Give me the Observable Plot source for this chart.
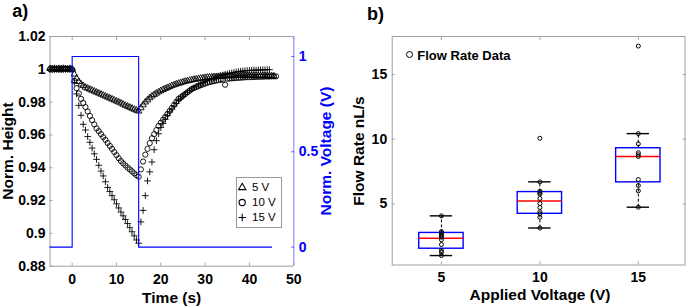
<!DOCTYPE html>
<html><head><meta charset="utf-8">
<script src="https://cdn.jsdelivr.net/npm/d3@7"></script>
<script src="https://cdn.jsdelivr.net/npm/@observablehq/plot@0.6"></script>
<style>
body{margin:0;background:#fff;}
#root{position:relative;width:688px;height:308px;overflow:hidden;background:#fff;font-family:'Liberation Sans',Arial,Helvetica,sans-serif;}
.layer{position:absolute;top:0;}
.layer svg{display:block;max-width:none;}
.lbl{position:absolute;font-weight:bold;white-space:nowrap;line-height:1;}
.rot{transform:translate(-50%,-50%) rotate(-90deg);}
.ctr{transform:translateX(-50%);}
#legA{position:absolute;left:236px;top:177.3px;width:45.7px;height:50.4px;border:1px solid #999;box-sizing:border-box;background:#fff;}
#legA svg{display:block;max-width:none;}
#legB{position:absolute;left:405.5px;top:49px;height:13px;white-space:nowrap;}
#legB .c{position:absolute;left:0;top:2.4px;width:7px;height:7px;border:1.8px solid #000;border-radius:50%;box-sizing:border-box;}
#legB .t{position:absolute;left:11.8px;top:0;font-weight:bold;font-size:13px;line-height:1;}
</style></head><body><div id="root"></div>
<script>
// ---------- Panel a data ----------
const times = [-5,-4.5,-4,-3.5,-3,-2.5,-2,-1.5,-1,-0.5,
  0,0.5,1,1.5,2,2.5,3,3.5,4,4.5,
  5,5.5,6,6.5,7,7.5,8,8.5,9,9.5,
  10,10.5,11,11.5,12,12.5,13,13.5,14,14.5,
  15,15.5,16,16.5,17,17.5,18,18.5,19,19.5,
  20,20.5,21,21.5,22,22.5,23,23.5,24,24.5,
  25,25.5,26,26.5,27,27.5,28,28.5,29,29.5,
  30,30.5,31,31.5,32,32.5,33,33.5,34,34.5,
  35,35.5,36,36.5,37,37.5,38,38.5,39,39.5,
  40,40.5,41,41.5,42,42.5,43,43.5,44,44.5,
  45,45.5,46];
const height5V = [1.0004,1.0003,1.0005,1.0002,1.0004,1.0003,1.0005,1.0003,1.0002,1.0004,
  1.0,0.997,0.9945,0.9925,0.991,0.990,0.989,0.9884,0.9878,0.9872,
  0.9866,0.986,0.9854,0.9848,0.9842,0.9836,0.983,0.9824,0.9818,0.9812,
  0.9806,0.98,0.9794,0.9787,0.978,0.9774,0.9768,0.9762,0.9756,0.975,
  0.9745,0.9765,0.9783,0.980,0.9813,0.9826,0.9837,0.9846,0.9854,0.9862,
  0.9869,0.9876,0.9882,0.9888,0.9894,0.99,0.9905,0.991,0.9914,0.9918,
  0.9922,0.9926,0.9929,0.9932,0.9935,0.9938,0.994,0.9942,0.9945,0.9947,
  0.9949,0.9951,0.9952,0.9953,0.9954,0.9955,0.9956,0.9957,0.9958,0.9959,
  0.996,0.996,0.9961,0.9961,0.9962,0.9962,0.9962,0.9963,0.9963,0.9963,
  0.9963,0.9962,0.9962,0.9962,0.9961,0.9961,0.9961,0.996,0.996,0.996,
  0.996,0.9959,null];
const height10V = [1.0001,0.9999,1.0002,1.0,1.0001,0.9999,1.0001,1.0002,1.0,1.0001,
  1.0,0.993,0.9885,0.9853,0.982,0.9795,0.977,0.9743,0.9716,0.969,
  0.9664,0.964,0.9623,0.9605,0.9587,0.957,0.9551,0.9533,0.9515,0.9496,
  0.9477,0.9458,0.9441,0.9427,0.9414,0.9401,0.939,0.9378,0.9366,0.9355,
  0.9345,0.939,0.9438,0.948,0.9515,0.955,0.958,0.9605,0.963,0.9655,
  0.9675,0.9693,0.971,0.9728,0.9746,0.9765,0.9784,0.9802,0.982,0.983,
  0.984,0.985,0.986,0.987,0.988,0.9886,0.9892,0.9898,0.9903,0.9908,
  0.9913,0.9918,0.9922,0.9925,0.9928,0.9931,0.9934,0.9936,0.9938,0.9906,
  0.9943,0.9944,0.9945,0.9946,0.9947,0.9948,0.9949,0.995,0.9951,0.9952,
  0.9952,0.9953,0.9953,0.9954,0.9954,0.9955,0.9955,0.9956,0.9956,0.9956,
  0.9957,0.9957,0.9957];
const height15V = [0.9998,1.0,0.9999,1.0001,0.9998,1.0,0.9999,1.0,1.0001,0.9999,
  1.0,0.992,0.985,0.978,0.972,0.9665,0.963,0.959,0.9555,0.952,
  0.9485,0.9451,0.9415,0.938,0.935,0.9315,0.928,0.9255,0.923,0.9205,
  0.918,0.9155,0.913,0.9107,0.9085,0.906,0.9035,0.901,0.8985,0.896,
  0.894,0.907,0.914,0.923,0.932,0.9375,0.9435,0.951,0.9565,0.9607,
  0.9645,0.967,0.9695,0.9718,0.974,0.9758,0.9776,0.9793,0.981,0.9823,
  0.9836,0.9848,0.986,0.987,0.988,0.9888,0.9896,0.9904,0.9911,0.9918,
  0.9924,0.993,0.9936,0.9942,0.9947,0.9952,0.9957,0.9961,0.9965,0.9969,
  0.9972,0.9975,0.9978,0.9981,0.9984,0.9986,0.9988,0.999,0.9991,0.9992,
  0.9993,0.9994,0.9995,0.9995,0.9996,0.9996,0.9997,0.9997,0.9998,0.9998,
  null,null,null];
const voltageTimes = [-5, 0, 0, 15, 15, 45];
const voltageValues = [0, 0, 1, 1, 0, 0];

const timeTicks = [0, 10, 20, 30, 40, 50];
const heightTicks = [0.88, 0.9, 0.92, 0.94, 0.96, 0.98, 1, 1.02];
const heightTickLabels = ["0.88", "0.9", "0.92", "0.94", "0.96", "0.98", "1", "1.02"];
const voltTicks = [0, 0.5, 1];
const voltTickLabels = ["0", "0.5", "1"];
const legendLabels = ["5 V", "10 V", "15 V"];
const legendSymbols = ["triangle", "circle", "plus"];

// ---------- Panel b data ----------
const voltages = [5, 10, 15];
const voltageLabels = ["5", "10", "15"];
const q1 = [1.53, 4.23, 6.66];
const medians = [2.34, 5.22, 8.66];
const q3 = [2.75, 5.91, 9.3];
const whiskerLow = [1.0, 3.13, 4.74];
const whiskerHigh = [4.07, 6.7, 10.43];
const flow5V = [4.07, 2.86, 2.75, 2.62, 2.5, 2.42, 2.22, 1.85, 1.39, 1.25, 1.0];
const flow10V = [10.07, 6.7, 5.97, 5.85, 5.75, 5.42, 5.02, 4.72, 4.38, 4.23, 3.96, 3.13];
const flow15V = [17.2, 10.43, 9.64, 8.95, 8.8, 8.66, 6.88, 6.42, 6.0, 4.74];
const flowTicks = [5, 10, 15];

// ---------- build ----------
const font = "'Liberation Sans', Arial, Helvetica, sans-serif";
const gray = "#a0a0a0";
const timeDomain = [-5, 50];
const heightDomain = [0.88, 1.02];
const voltDomain = [-0.1, 1.105];
const W = 344, H = 308;
const mA = {marginLeft: 49.5, marginRight: 50.7, marginTop: 36, marginBottom: 42.3};

const series = [
  {values: height5V, symbol: "triangle", r: 2.4},
  {values: height10V, symbol: "circle", r: 2.6},
  {values: height15V, symbol: "plus", r: 2.3}
].map(s => ({...s, rows: times.map((t, i) => ({t, h: s.values[i]})).filter(d => d.h != null)}));

const voltRows = voltageTimes.map((t, i) => ({t, v: voltageValues[i]}));

const root = document.getElementById("root");
function layer(node, left) {
  const d = document.createElement("div");
  d.className = "layer";
  d.style.left = left + "px";
  d.appendChild(node);
  root.appendChild(d);
  return d;
}

const heightPlot = Plot.plot({
  width: W, height: H, ...mA,
  x: {domain: timeDomain},
  y: {domain: heightDomain},
  style: {fontFamily: font, fontSize: "14px", fontWeight: "bold", background: "#fff", color: "#000", overflow: "visible"},
  marks: [
    Plot.ruleX([timeDomain[0]], {stroke: gray}),
    Plot.ruleY(heightDomain, {stroke: gray}),
    Plot.axisY(heightTicks, {anchor: "left", tickFormat: d => heightTickLabels[heightTicks.indexOf(d)], tickSize: -3, tickPadding: 7.5, stroke: gray, fill: "#000", label: null}),
    Plot.axisX(timeTicks, {anchor: "bottom", tickFormat: d => String(d), tickSize: -3, tickPadding: 11, stroke: gray, fill: "#000", label: null}),
    Plot.axisX(timeTicks, {anchor: "top", tickSize: -3, stroke: gray, fill: "none", label: null}),
    ...series.map(s => Plot.dot(s.rows, {x: "t", y: "h", symbol: s.symbol, r: s.r, stroke: "#000", fill: "none", strokeWidth: 0.9}))
  ]
});
layer(heightPlot, 0);

const voltPlot = Plot.plot({
  width: W, height: H, ...mA,
  x: {domain: timeDomain, axis: null},
  y: {domain: voltDomain},
  style: {fontFamily: font, fontSize: "14px", fontWeight: "bold", background: "transparent", overflow: "visible"},
  marks: [
    Plot.ruleX([timeDomain[1]], {stroke: "#7f7fff"}),
    Plot.axisY(voltTicks, {anchor: "right", tickFormat: d => voltTickLabels[voltTicks.indexOf(d)], tickSize: -3, tickPadding: 8, stroke: "#5a5aff", fill: "#0000ff", label: null}),
    Plot.line(voltRows, {x: "t", y: "v", stroke: "#0000ff", strokeWidth: 1.1})
  ]
});
layer(voltPlot, 0);

// Panel b
const boxHalf = 1.127, capHalf = 0.57;
const boxes = voltages.map((v, i) => ({v, q1: q1[i], med: medians[i], q3: q3[i], lo: whiskerLow[i], hi: whiskerHigh[i]}));
const flowSets = [flow5V, flow10V, flow15V];
const points = voltages.flatMap((v, i) => flowSets[i].map(f => ({v, f})));

const boxPlot = Plot.plot({
  width: W, height: H,
  marginLeft: 47.7, marginRight: 3.5, marginTop: 36, marginBottom: 43.5,
  x: {domain: [2.5, 17.37]},
  y: {domain: [0.27, 17.94]},
  style: {fontFamily: font, fontSize: "14px", fontWeight: "bold", background: "#fff", color: "#000", overflow: "visible"},
  marks: [
    Plot.frame({stroke: gray}),
    Plot.axisY(flowTicks, {anchor: "left", tickSize: -3, tickPadding: 8, stroke: gray, fill: "#000", label: null}),
    Plot.axisY(flowTicks, {anchor: "right", tickSize: -3, stroke: gray, fill: "none", label: null}),
    Plot.axisX(voltages, {anchor: "bottom", tickFormat: d => voltageLabels[voltages.indexOf(d)], tickSize: -3, tickPadding: 10.5, stroke: gray, fill: "#000", label: null}),
    Plot.axisX(voltages, {anchor: "top", tickSize: -3, stroke: gray, fill: "none", label: null}),
    Plot.ruleX(boxes, {x: "v", y1: "q3", y2: "hi", stroke: "#000", strokeDasharray: "3,2"}),
    Plot.ruleX(boxes, {x: "v", y1: "lo", y2: "q1", stroke: "#000", strokeDasharray: "3,2"}),
    Plot.ruleY(boxes, {y: "hi", x1: d => d.v - capHalf, x2: d => d.v + capHalf, stroke: "#000", strokeWidth: 1.4}),
    Plot.ruleY(boxes, {y: "lo", x1: d => d.v - capHalf, x2: d => d.v + capHalf, stroke: "#000", strokeWidth: 1.4}),
    Plot.rect(boxes, {x1: d => d.v - boxHalf, x2: d => d.v + boxHalf, y1: "q1", y2: "q3", stroke: "#0000ff", fill: "none", strokeWidth: 1.4}),
    Plot.ruleY(boxes, {y: "med", x1: d => d.v - boxHalf, x2: d => d.v + boxHalf, stroke: "#ff0000", strokeWidth: 1.3}),
    Plot.dot(points, {x: "v", y: "f", r: 2, stroke: "#000", strokeWidth: 1, fill: "none"})
  ]
});
layer(boxPlot, 344);

// Legend a (mini plot)
const legendItems = legendLabels.map((label, i) => ({label, symbol: legendSymbols[i]}));
const legendR = {triangle: 2.7, circle: 3.1, plus: 2.5};
const legA = document.createElement("div");
legA.id = "legA";
legA.appendChild(Plot.plot({
  width: 44, height: 48, margin: 0,
  x: {domain: [0, 1], axis: null},
  y: {type: "point", domain: legendLabels, range: [8.4, 40], padding: 0, axis: null},
  style: {fontFamily: font, fontSize: "11.5px", fontWeight: "normal", background: "transparent", overflow: "visible"},
  marks: [
    ...legendItems.map(it => Plot.dot([it], {y: "label", symbol: it.symbol, r: legendR[it.symbol], frameAnchor: "left", dx: 4.7, stroke: "#000", fill: "none", strokeWidth: 1.1})),
    Plot.text(legendItems, {y: "label", text: "label", frameAnchor: "left", dx: 14.5, textAnchor: "start", fill: "#000"})
  ]
}));
root.appendChild(legA);

// Legend b
const legB = document.createElement("div");
legB.id = "legB";
legB.innerHTML = '<span class="c"></span><span class="t">Flow Rate Data</span>';
root.appendChild(legB);

// Titles and labels
function label(text, cls, left, top, size, color) {
  const d = document.createElement("div");
  d.className = "lbl " + cls;
  d.textContent = text;
  d.style.left = left + "px";
  d.style.top = top + "px";
  d.style.fontSize = size + "px";
  d.style.color = color || "#000";
  root.appendChild(d);
}
label("a)", "", 12.3, 1.8, 18);
label("b)", "", 367, 5.3, 18);
label("Time (s)", "ctr", 171.7, 289.9, 15.5);
label("Applied Voltage (V)", "ctr", 540, 287, 15.5);
label("Norm. Height", "rot", 8.3, 151, 15.5);
label("Norm. Voltage (V)", "rot", 325.8, 151, 15.5, "#0000ff");
label("Flow Rate nL/s", "rot", 359, 151, 15.5);
</script></body></html>
